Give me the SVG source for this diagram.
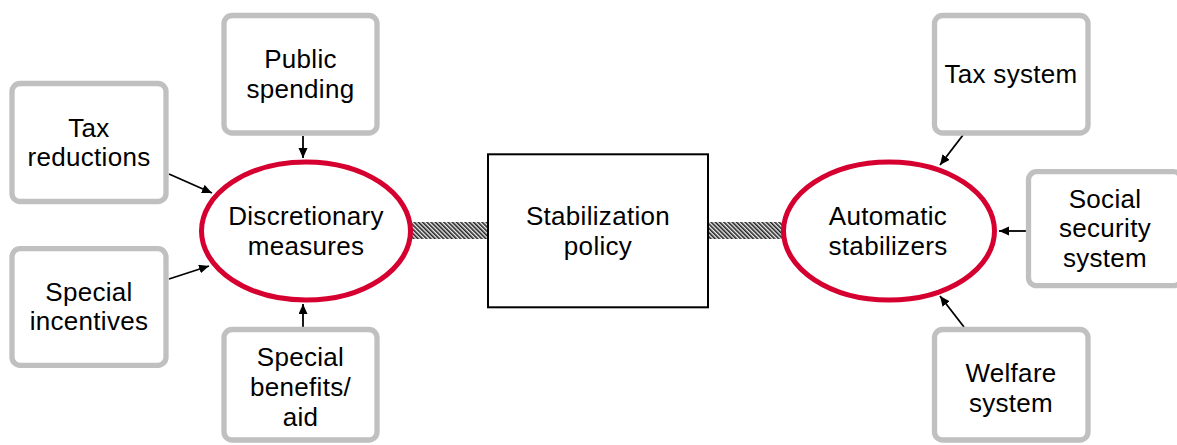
<svg xmlns="http://www.w3.org/2000/svg" width="1177" height="445" viewBox="0 0 1177 445">
<defs>
<style>
.box{fill:#ffffff;stroke:#c0c0c0;stroke-width:5.3}
.ell{fill:#ffffff;stroke:#d5002f;stroke-width:5}
.core{fill:#ffffff;stroke:#000000;stroke-width:2}
.t{font-family:"Liberation Sans",Arial,sans-serif;font-size:26px;letter-spacing:0.3px;fill:#000000;text-anchor:middle}
.arr{stroke:#000000;stroke-width:1.8;fill:none;marker-end:url(#ah)}
.hatch{fill:url(#hp)}
</style>
<marker id="ah" markerUnits="userSpaceOnUse" markerWidth="11" markerHeight="10" refX="10" refY="4.5" orient="auto">
<path d="M0,0 L10,4.5 L0,9 z" fill="#000000"/>
</marker>
<pattern id="hp" patternUnits="userSpaceOnUse" width="3" height="3" patternTransform="rotate(-45)">
<rect x="0" y="0" width="3" height="3" fill="#f2f2f2"/>
<rect x="0" y="0" width="1.6" height="3" fill="#222222"/>
</pattern>
</defs>
<g id="connectors">
<rect class="hatch" x="405" y="222" width="83" height="17"/>
<rect class="hatch" x="707" y="222" width="80" height="17"/>
<line class="arr" x1="303" y1="136" x2="303" y2="158"/>
<line class="arr" x1="169" y1="174" x2="212" y2="193"/>
<line class="arr" x1="169" y1="279" x2="209" y2="266"/>
<line class="arr" x1="303" y1="327" x2="303" y2="304"/>
<line class="arr" x1="963" y1="135" x2="940" y2="165"/>
<line class="arr" x1="1027" y1="231" x2="999" y2="231"/>
<line class="arr" x1="964" y1="327" x2="940" y2="296"/>
</g>
<g id="public-spending">
<rect class="box" x="224" y="15.5" width="153" height="117.5" rx="8"/>
<text class="t" x="300.5" y="68">Public</text>
<text class="t" x="300.5" y="98">spending</text>
</g>
<g id="tax-reductions">
<rect class="box" x="12" y="83.5" width="154" height="118" rx="8"/>
<text class="t" x="89" y="136.5">Tax</text>
<text class="t" x="89" y="166">reductions</text>
</g>
<g id="special-incentives">
<rect class="box" x="12" y="248.7" width="154" height="116.6" rx="8"/>
<text class="t" x="89" y="301">Special</text>
<text class="t" x="89" y="330">incentives</text>
</g>
<g id="special-benefits">
<rect class="box" x="224" y="329.5" width="153" height="110.5" rx="8"/>
<text class="t" x="300.5" y="366">Special</text>
<text class="t" x="300.5" y="396">benefits/</text>
<text class="t" x="300.5" y="426">aid</text>
</g>
<g id="discretionary-measures">
<ellipse class="ell" cx="306" cy="231" rx="104.5" ry="69"/>
<text class="t" x="306" y="225">Discretionary</text>
<text class="t" x="306" y="255">measures</text>
</g>
<g id="stabilization-policy">
<rect class="core" x="488" y="154.3" width="220" height="153"/>
<text class="t" x="598" y="225">Stabilization</text>
<text class="t" x="598" y="255">policy</text>
</g>
<g id="automatic-stabilizers">
<ellipse class="ell" cx="889" cy="231" rx="105.5" ry="69"/>
<text class="t" x="888" y="225">Automatic</text>
<text class="t" x="888" y="255">stabilizers</text>
</g>
<g id="tax-system">
<rect class="box" x="934.5" y="15.5" width="153.5" height="117.5" rx="8"/>
<text class="t" x="1011" y="83">Tax system</text>
</g>
<g id="social-security-system">
<rect class="box" x="1028.5" y="171.7" width="153" height="114" rx="8"/>
<text class="t" x="1105" y="207.5">Social</text>
<text class="t" x="1105" y="237">security</text>
<text class="t" x="1105" y="266.5">system</text>
</g>
<g id="welfare-system">
<rect class="box" x="934.5" y="329.5" width="153.5" height="110.5" rx="8"/>
<text class="t" x="1011" y="382">Welfare</text>
<text class="t" x="1011" y="412">system</text>
</g>
</svg>
